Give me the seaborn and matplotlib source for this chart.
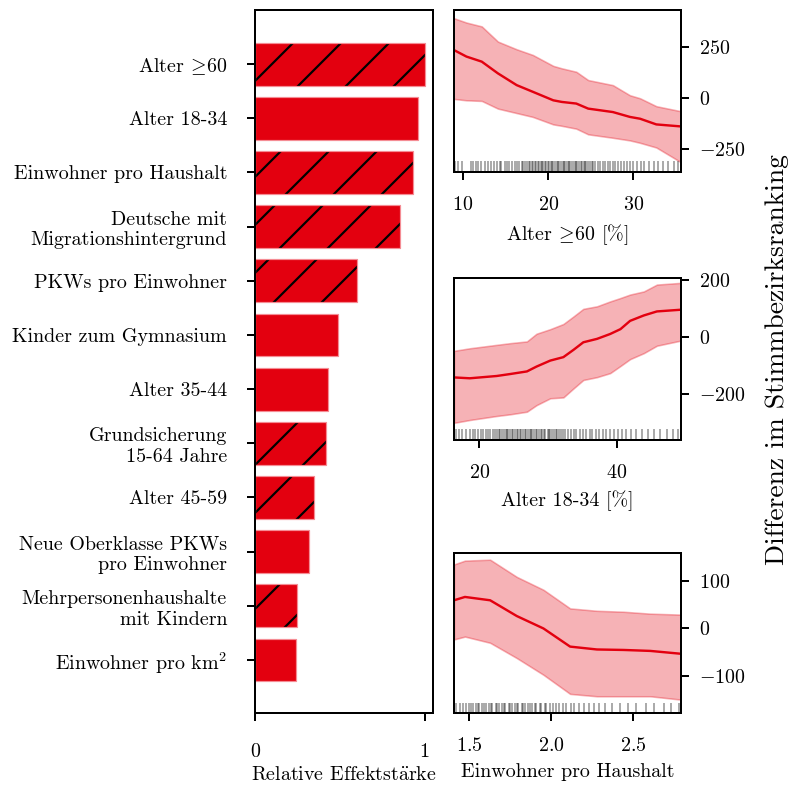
import numpy as np
import pandas as pd
import matplotlib
matplotlib.use("Agg")
import matplotlib.pyplot as plt
import matplotlib.colors as mcolors
import seaborn as sns

# ---------------- data ----------------
features = [r"Alter $\!\geq\!$60", "Alter 18-34", "Einwohner pro Haushalt",
            "Deutsche mit\nMigrationshintergrund", "PKWs pro Einwohner",
            "Kinder zum Gymnasium", "Alter 35-44", "Grundsicherung\n15-64 Jahre",
            "Alter 45-59", "Neue Oberklasse PKWs\npro Einwohner",
            "Mehrpersonenhaushalte\nmit Kindern", r"Einwohner pro km$^2$"]
effect = [1.0, 0.96, 0.93, 0.855, 0.60, 0.49, 0.43, 0.42, 0.35, 0.32, 0.25, 0.24]
hatched = [True, False, True, True, True, False, False, True, True, False, True, False]

# panel 1: Alter >=60
p1_x = [8.9, 10.4, 12.2, 14.1, 16.3, 18.2, 20.6, 21.6, 23.3, 24.7, 27.6, 29.6, 30.8, 32.7, 35.6]
p1_mean = [237, 204, 179, 121, 63, 30, -12, -20, -28, -53, -70, -94, -103, -131, -141]
p1_upper = [394, 372, 353, 278, 240, 212, 158, 146, 129, 88, 63, 13, -2, -41, -66]
p1_lower = [-5, -12, -15, -53, -75, -94, -131, -138, -152, -180, -197, -210, -222, -245, -318]
p1_rug = [9.1, 9.4, 9.9, 10.9, 11.2, 11.5, 11.8, 12.1, 12.6, 12.9, 13.3, 13.6, 14.0, 14.3,
          14.5, 14.9, 15.2, 15.4, 15.8, 16.1, 16.3, 16.6, 16.9, 17.1, 17.3, 17.5, 17.7,
          17.9, 18.1, 18.2, 18.4, 18.6, 18.8, 18.9, 19.1, 19.3, 19.4, 19.6, 19.8, 20.0,
          20.1, 20.3, 20.5, 20.6, 20.8, 21.0, 21.2, 21.3, 21.5, 21.7, 21.9, 22.0, 22.2,
          22.4, 22.5, 22.7, 22.9, 23.1, 23.3, 23.4, 23.6, 23.8, 24.0, 24.2, 24.3, 24.5,
          24.7, 24.9, 25.1, 25.3, 25.5, 25.8, 26.1, 26.4, 26.7, 27.0, 27.3, 27.6, 27.9,
          28.2, 28.5, 28.9, 29.2, 29.6, 30.0, 30.4, 30.9, 31.3, 31.8, 32.4, 32.9, 33.5,
          34.1, 34.8, 35.3]

# panel 2: Alter 18-34
p2_x = [16.3, 18.6, 22.5, 24.5, 26.9, 28.3, 30.3, 32.2, 33.7, 35.1, 37.1, 39.0, 40.5, 41.9, 43.9, 45.8, 49.3]
p2_mean = [-141, -144, -136, -129, -120, -103, -82, -70, -44, -18, -6, 11, 28, 57, 76, 90, 96]
p2_upper = [-48, -39, -27, -21, -15, 12, 28, 46, 73, 99, 108, 125, 137, 149, 160, 184, 190]
p2_lower = [-300, -290, -276, -270, -261, -238, -214, -211, -179, -150, -140, -126, -101, -77, -56, -30, -12]
p2_rug = [16.6, 17.0, 17.5, 18.0, 18.6, 19.0, 19.4, 19.8, 20.2, 20.5, 20.9, 21.2, 21.6,
          21.9, 22.2, 22.5, 22.8, 23.0, 23.3, 23.5, 23.8, 24.0, 24.2, 24.5, 24.7, 24.9,
          25.2, 25.4, 25.6, 25.9, 26.1, 26.3, 26.6, 26.8, 27.0, 27.3, 27.5, 27.7, 28.0,
          28.2, 28.4, 28.7, 28.9, 29.1, 29.4, 29.6, 29.9, 30.1, 30.3, 30.6, 30.8, 31.1,
          31.3, 31.6, 31.9, 32.2, 32.5, 32.9, 33.3, 33.7, 34.1, 34.6, 35.0, 35.5, 36.0,
          36.4, 36.9, 37.4, 37.9, 38.4, 39.0, 39.5, 40.1, 40.7, 41.3, 42.0, 42.8, 43.6,
          44.5, 45.4, 46.3, 47.2, 48.1, 48.9]

# panel 3: Einwohner pro Haushalt
p3_x = [1.406, 1.473, 1.627, 1.79, 1.953, 2.116, 2.28, 2.443, 2.606, 2.794]
p3_mean = [59, 66, 59, 26, 0, -38, -44, -45, -47, -53]
p3_upper = [134, 142, 144, 108, 81, 42, 37, 35, 31, 29]
p3_lower = [-23, -17, -30, -62, -97, -137, -142, -142, -142, -149]
p3_rug = [1.42, 1.44, 1.46, 1.48, 1.50, 1.51, 1.52, 1.54, 1.55, 1.56, 1.58, 1.59, 1.60,
          1.62, 1.63, 1.64, 1.66, 1.67, 1.68, 1.70, 1.71, 1.72, 1.74, 1.75, 1.76, 1.78,
          1.79, 1.80, 1.82, 1.83, 1.84, 1.86, 1.87, 1.88, 1.90, 1.91, 1.93, 1.94, 1.96,
          1.97, 1.99, 2.01, 2.03, 2.05, 2.07, 2.09, 2.12, 2.14, 2.17, 2.20, 2.23, 2.26,
          2.29, 2.33, 2.37, 2.42, 2.47, 2.52, 2.58, 2.63, 2.69, 2.73, 2.78]

# ---------------- style ----------------
sns.set_style("ticks")
plt.rcParams["font.family"] = ["cmr10", "DejaVu Serif"]
plt.rcParams["mathtext.fontset"] = "cm"
plt.rcParams["axes.formatter.use_mathtext"] = True
plt.rcParams["axes.unicode_minus"] = True
plt.rcParams["font.size"] = 5.0
plt.rcParams["axes.linewidth"] = 0.5
plt.rcParams["hatch.linewidth"] = 0.55
plt.rcParams["hatch.color"] = "black"
plt.rcParams["xtick.major.width"] = 0.5
plt.rcParams["ytick.major.width"] = 0.5
plt.rcParams["xtick.major.size"] = 2.0
plt.rcParams["ytick.major.size"] = 2.0
plt.rcParams["axes.edgecolor"] = "black"
plt.rcParams["axes.labelcolor"] = "black"
plt.rcParams["text.color"] = "black"
plt.rcParams["xtick.color"] = "black"
plt.rcParams["ytick.color"] = "black"

RED = "#E3000F"
W, H = 796, 785
fig = plt.figure(figsize=(W / 288, H / 288), dpi=288)

# ---------------- left bar chart ----------------
ax0 = fig.add_axes([255 / W, 1 - 713 / H, 178 / W, 703 / H])
df = pd.DataFrame({"feature": features, "effect": effect})
sns.barplot(data=df, y="feature", x="effect", orient="h", color=RED,
            saturation=1, width=0.79, ax=ax0, linewidth=0.3,
            edgecolor=(0.96, 0.55, 0.58))
for p, h in zip(ax0.patches, hatched):
    if h:
        p.set_hatch("//")
        p._hatch_color = mcolors.to_rgba("black")
ax0.set_xlim(0, 1.05)
ax0.set_ylim(11.98, -1.0)
ax0.set_xticks([0, 1])
ax0.set_xticklabels(["0", "1"])
ax0.set_ylabel("")
ax0.set_xlabel("Relative Effektst$\\ddot{\\mathrm{a}}$rke", labelpad=1.2)
ax0.tick_params(axis="x", pad=5.5)
ax0.tick_params(axis="y", pad=5.0)
for lab in ax0.get_yticklabels():
    lab.set_multialignment("right")

# ---------------- right panels ----------------
panels = [
    (p1_x, p1_mean, p1_lower, p1_upper, p1_rug, r"Alter $\!\geq\!$60 [%]",
     [10, 20, 30], [-250, 0, 250], (8.94, 35.6), (-366, 434), (10, 172)),
    (p2_x, p2_mean, p2_lower, p2_upper, p2_rug, "Alter 18-34 [%]",
     [20, 40], [-200, 0, 200], (16.3, 49.3), (-360, 207), (278, 440)),
    (p3_x, p3_mean, p3_lower, p3_upper, p3_rug, "Einwohner pro Haushalt",
     [1.5, 2.0, 2.5], [-100, 0, 100], (1.406, 2.794), (-177, 158), (553, 713)),
]
for (x, m, lo, hi, rug, xl, xt, yt, xlim, ylim, (top, bot)) in panels:
    ax = fig.add_axes([454 / W, 1 - bot / H, 227 / W, (bot - top) / H])
    ax.fill_between(x, lo, hi, color=RED, alpha=0.3, linewidth=0.4)
    sns.lineplot(x=x, y=m, color=RED, linewidth=0.6, ax=ax)
    sns.rugplot(x=rug, ax=ax, height=0.065, color="black", alpha=0.33, linewidth=0.5)
    ax.set_xlim(*xlim)
    ax.set_ylim(*ylim)
    ax.set_xticks(xt)
    ax.set_yticks(yt)
    ax.yaxis.tick_right()
    ax.set_xlabel(xl, labelpad=2)
    ax.set_ylabel("")
    ax.tick_params(axis="x", pad=4.0)
    ax.tick_params(axis="y", pad=2.5)

fig.text(777 / W, 1 - 360 / H, "Differenz im Stimmbezirksranking", rotation=90,
         ha="center", va="center", fontsize=6.9)

fig.savefig("out.png", dpi=288)
